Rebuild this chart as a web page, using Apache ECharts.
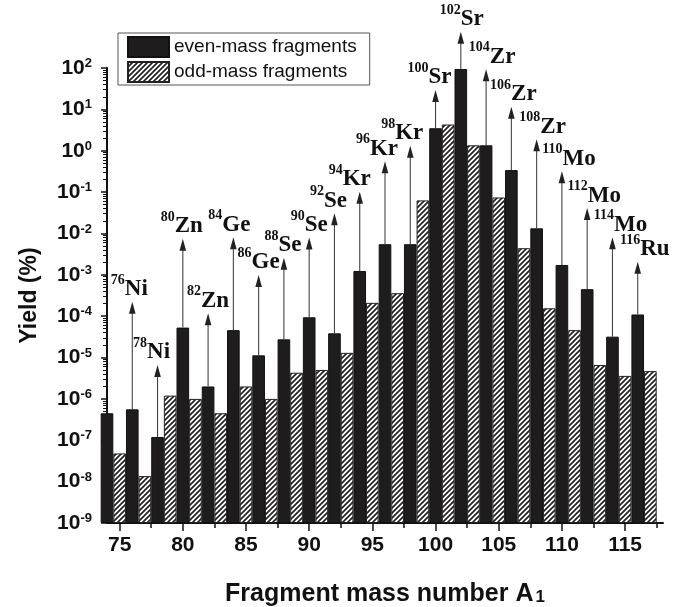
<!DOCTYPE html>
<html>
<head>
<meta charset="utf-8">
<script src="https://cdn.jsdelivr.net/npm/echarts@6/dist/echarts.min.js"></script>
<style>
  html, body { margin: 0; padding: 0; background: #fff; }
  #main { width: 681px; height: 607px; }
</style>
</head>
<body>
<div id="main"></div>
<script>
// yields (%)
const evenMass = [74, 76, 78, 80, 82, 84, 86, 88, 90, 92, 94, 96, 98, 100, 102, 104, 106, 108, 110, 112, 114, 116];
const evenYield = [4.5e-7, 5.6e-7, 1.2e-7, 5.3e-5, 2.0e-6, 4.6e-5, 1.13e-5, 2.75e-5, 9.4e-5, 3.85e-5, 1.24e-3,
  5.5e-3, 5.5e-3, 3.5, 94.6, 1.35, 0.34, 0.0133, 1.73e-3, 4.5e-4, 3.2e-5, 1.1e-4];
const oddMass = [75, 77, 79, 81, 83, 85, 87, 89, 91, 93, 95, 97, 99, 101, 103, 105, 107, 109, 111, 113, 115, 117];
const oddYield = [4.8e-8, 1.36e-8, 1.2e-6, 1.0e-6, 4.5e-7, 2.0e-6, 1.0e-6, 4.3e-6, 5.0e-6, 1.3e-5, 2.1e-4,
  3.6e-4, 0.063, 4.3, 1.35, 0.074, 4.4e-3, 1.55e-4, 4.6e-5, 6.6e-6, 3.6e-6, 4.7e-6];

// arrows: nucleus mass, element, yield at arrow tip
const annMass = [76, 78, 80, 82, 84, 86, 88, 90, 92, 94, 96, 98, 100, 102, 104, 106, 108, 110, 112, 114, 116];
const annElem = ['Ni', 'Ni', 'Zn', 'Zn', 'Ge', 'Ge', 'Se', 'Se', 'Se', 'Kr', 'Kr', 'Kr', 'Sr', 'Sr', 'Zr', 'Zr', 'Zr', 'Mo', 'Mo', 'Mo', 'Ru'];
const annTip = [2.24e-4, 6.6e-6, 7.4e-3, 1.17e-4, 8.1e-3, 9.9e-4, 2.6e-3, 8e-3, 0.031, 0.102, 0.56, 1.32,
  29.4, 755, 93, 11.6, 1.89, 0.32, 0.041, 8.1e-3, 2.07e-3];

const xMajor = [75, 80, 85, 90, 95, 100, 105, 110, 115];
const xMinor = [77.5, 82.5, 87.5, 92.5, 97.5, 102.5, 107.5, 112.5, 117.5];
const yMajor = [1e-9, 1e-8, 1e-7, 1e-6, 1e-5, 1e-4, 1e-3, 1e-2, 1e-1, 1, 10, 100];

// label nudges in px (style only)
const labelDx = [-3, -6, -1, 0, -4, 0, -1, 0, -6, -10, -8, -8, -6, 1, 6, 2, 6, 7, 7, 8, 7];

let yMinor = [];
for (let e = -9; e < 2; e++) {
  for (let k = 2; k <= 9; k++) yMinor.push(k * Math.pow(10, e));
}

const sans = '"Liberation Sans", Arial, sans-serif';
const serif = '"Liberation Serif", "Times New Roman", serif';

// hatch pattern
const hatch = document.createElement('canvas');
hatch.width = 5;
hatch.height = 5;
(function () {
  const ctx = hatch.getContext('2d');
  ctx.fillStyle = '#fff';
  ctx.fillRect(0, 0, 5, 5);
  ctx.strokeStyle = '#222';
  ctx.lineWidth = 1.7;
  ctx.beginPath();
  ctx.moveTo(-1, 6); ctx.lineTo(6, -1);
  ctx.moveTo(-1, 1); ctx.lineTo(1, -1);
  ctx.moveTo(4, 6); ctx.lineTo(6, 4);
  ctx.stroke();
})();

const chart = echarts.init(document.getElementById('main'));

function expLabel(v) {
  const e = Math.round(Math.log10(v));
  return '{b|10}{s|' + e + '}';
}

const option = {
  animation: false,
  backgroundColor: '#fff',
  grid: { left: 107, right: 18, top: 68, bottom: 84, outerBoundsMode: 'none' },
  legend: {
    orient: 'vertical',
    left: 118,
    top: 33,
    icon: 'rect',
    itemWidth: 41,
    itemHeight: 20,
    itemGap: 3,
    padding: [3, 13, 2, 9],
    borderColor: '#555',
    borderWidth: 1,
    textStyle: { fontSize: 19, fontFamily: sans, color: '#111' },
    data: ['even-mass fragments', 'odd-mass fragments']
  },
  xAxis: [
    {
      type: 'value',
      min: 74,
      max: 118,
      splitLine: { show: false },
      axisLine: { lineStyle: { color: '#111', width: 2 } },
      axisTick: { customValues: xMajor, length: 8, lineStyle: { color: '#111', width: 1.5 } },
      axisLabel: {
        customValues: xMajor,
        margin: 12,
        fontSize: 21,
        fontWeight: 'bold',
        fontFamily: sans,
        color: '#111'
      },
      name: 'Fragment mass number A{sub|1}',
      nameLocation: 'middle',
      nameGap: 59,
      nameTextStyle: {
        fontSize: 25,
        fontWeight: 'bold',
        fontFamily: sans,
        color: '#111',
        lineHeight: 24,
        rich: {
          sub: { fontSize: 17, fontWeight: 'bold', fontFamily: sans, color: '#111', verticalAlign: 'bottom', lineHeight: 10, padding: [0, 0, 0, 2] }
        }
      }
    },
    {
      type: 'value',
      min: 74,
      max: 118,
      position: 'bottom',
      splitLine: { show: false },
      axisLine: { show: false },
      axisTick: { customValues: xMinor, length: 5, lineStyle: { color: '#111', width: 1.5 } },
      axisLabel: { show: false }
    }
  ],
  yAxis: [
    {
      type: 'log',
      min: 1e-9,
      max: 100,
      startValue: 1e-9,
      splitLine: { show: false },
      axisLine: { show: true, lineStyle: { color: '#111', width: 2 } },
      axisTick: { customValues: yMajor, length: 6, lineStyle: { color: '#111', width: 1.5 } },
      axisLabel: {
        customValues: yMajor,
        margin: 15,
        formatter: expLabel,
        rich: {
          b: { fontSize: 21, fontWeight: 'bold', fontFamily: sans, color: '#111', lineHeight: 22 },
          s: { fontSize: 13, fontWeight: 'bold', fontFamily: sans, color: '#111', verticalAlign: 'top', lineHeight: 12 }
        }
      },
      name: 'Yield (%)',
      nameLocation: 'middle',
      nameGap: 66,
      nameTextStyle: { fontSize: 23, fontWeight: 'bold', fontFamily: sans, color: '#111' }
    },
    {
      type: 'log',
      min: 1e-9,
      max: 100,
      position: 'left',
      splitLine: { show: false },
      axisLine: { show: false },
      axisTick: { customValues: yMinor, length: 4, lineStyle: { color: '#111', width: 1 } },
      axisLabel: { show: false }
    }
  ],
  series: [
    {
      name: 'even-mass fragments',
      type: 'bar',
      barWidth: '100%',
      barGap: '-100%',
      itemStyle: { color: '#1e1c1c', borderColor: '#111', borderWidth: 1 },
      data: evenMass.map((m, i) => [m, evenYield[i]])
    },
    {
      name: 'odd-mass fragments',
      type: 'bar',
      barWidth: '100%',
      barGap: '-100%',
      itemStyle: { color: { image: hatch, repeat: 'repeat' }, borderColor: '#222', borderWidth: 1 },
      data: oddMass.map((m, i) => [m, oddYield[i]])
    },
    {
      type: 'custom',
      clip: false,
      z: 5,
      data: annMass.map((m, i) => [m, annTip[i], evenYield[evenMass.indexOf(m)], i]),
      renderItem: function (params, api) {
        const i = api.value(3);
        const tip = api.coord([api.value(0), api.value(1)]);
        const base = api.coord([api.value(0), api.value(2)]);
        const hw = 3.3, hl = 12;
        return {
          type: 'group',
          children: [
            {
              type: 'line',
              shape: { x1: base[0], y1: base[1], x2: tip[0], y2: tip[1] + hl - 1 },
              style: { stroke: '#444', lineWidth: 1.1 }
            },
            {
              type: 'polygon',
              shape: { points: [[tip[0], tip[1]], [tip[0] - hw, tip[1] + hl], [tip[0] + hw, tip[1] + hl]] },
              style: { fill: '#222' }
            },
            {
              type: 'text',
              x: tip[0] + labelDx[i],
              y: tip[1] + 3.5,
              style: {
                text: '{s|' + annMass[i] + '}{m|' + annElem[i] + '}',
                align: 'center',
                verticalAlign: 'bottom',
                rich: {
                  s: { fontSize: 14, fontWeight: 'bold', fontFamily: serif, fill: '#111', verticalAlign: 'top', lineHeight: 14 },
                  m: { fontSize: 23, fontWeight: 'bold', fontFamily: serif, fill: '#111', lineHeight: 32 }
                }
              }
            }
          ]
        };
      }
    }
  ]
};

chart.setOption(option);
</script>
</body>
</html>
